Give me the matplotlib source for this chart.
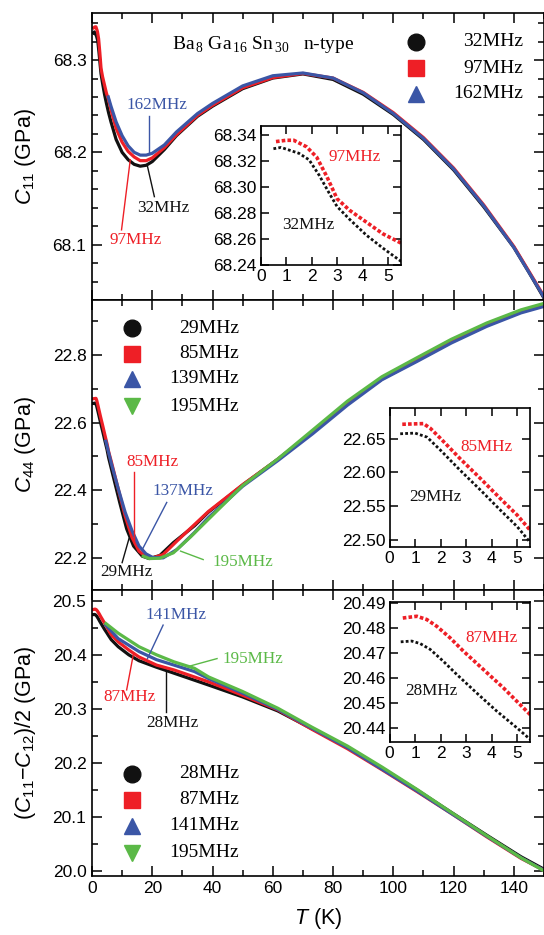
import matplotlib
matplotlib.use('Agg')
import matplotlib.pyplot as plt
from matplotlib.ticker import MultipleLocator, FormatStrFormatter

plt.rcParams['font.family'] = ['Liberation Sans', 'DejaVu Sans']
plt.rcParams['mathtext.fontset'] = 'custom'
plt.rcParams['mathtext.rm'] = 'Liberation Serif'
plt.rcParams['mathtext.it'] = 'Liberation Sans:italic'
plt.rcParams['mathtext.sf'] = 'Liberation Sans'
plt.rcParams['mathtext.bf'] = 'Liberation Sans:bold'

BLACK = '#111111'
RED = '#ee1f26'
BLUE = '#3b56a6'
GREEN = '#5bb947'

# ---------------- C11 panel ----------------
c11_T_32 = [0.5, 0.8, 1.5, 1.9, 2.3, 2.7, 3.0, 3.5, 4.15, 4.8, 5.5, 6.3, 8, 10, 12, 14, 16, 18, 20, 24, 28,
            35, 40, 50, 60, 70, 80, 90, 100, 110, 120, 130, 140, 145, 150]
c11_v_32 = [68.3295, 68.3305, 68.326, 68.321, 68.309, 68.295, 68.285, 68.275, 68.263, 68.253, 68.243, 68.233,
            68.214, 68.200, 68.192, 68.187, 68.185, 68.186, 68.190, 68.203, 68.218, 68.239, 68.250, 68.269,
            68.2805, 68.285, 68.279, 68.263, 68.241, 68.214, 68.181, 68.141, 68.097, 68.070, 68.042]
c11_T_97 = [0.6, 1.0, 1.3, 1.8, 2.2, 2.6, 3.0, 3.5, 4.15, 4.8, 5.5, 6.3, 8, 10, 12, 14, 16, 18, 20, 24, 28,
            35, 40, 50, 60, 70, 80, 90, 100, 110, 120, 130, 140, 145, 150]
c11_v_97 = [68.335, 68.336, 68.336, 68.331, 68.323, 68.308, 68.291, 68.282, 68.273, 68.264, 68.257, 68.246,
            68.226, 68.211, 68.201, 68.195, 68.191, 68.191, 68.194, 68.205, 68.219, 68.240, 68.251, 68.270,
            68.281, 68.2855, 68.2805, 68.265, 68.243, 68.216, 68.183, 68.143, 68.098, 68.071, 68.044]
c11_T_162 = [5.4, 6.3, 8, 10, 12, 14, 16, 18, 20, 24, 28, 35, 40, 50, 60, 70, 80, 90, 100, 110, 120, 130,
             140, 145, 150]
c11_v_162 = [68.260, 68.250, 68.233, 68.218, 68.207, 68.200, 68.197, 68.197, 68.199, 68.208, 68.222, 68.242,
             68.253, 68.272, 68.283, 68.286, 68.2805, 68.2645, 68.242, 68.215, 68.182, 68.142, 68.097,
             68.070, 68.043]

# ---------------- C44 panel ----------------
c44_T_29 = [0.42, 1.0, 1.47, 1.99, 2.77, 3.56, 4.35, 5.0, 5.5, 9.2, 11.5, 13.8, 16.7, 19, 22.5, 27, 34,
            38.6, 50.2, 61.7, 73.2, 84.8, 96.2, 107.8, 119.3, 131, 142.4, 150]
c44_v_29 = [22.657, 22.658, 22.652, 22.633, 22.603, 22.574, 22.544, 22.520, 22.497, 22.364, 22.286, 22.235,
            22.205, 22.198, 22.207, 22.245, 22.295, 22.335, 22.417, 22.492, 22.572, 22.658, 22.729, 22.784,
            22.839, 22.888, 22.928, 22.948]
c44_T_85 = [0.5, 1.33, 1.6, 2.0, 2.77, 3.56, 4.35, 5.0, 5.5, 6.4, 8.7, 11, 13.3, 15.6, 17.9, 20.2, 23.6,
            28.2, 38.6, 50.2, 61.7, 73.2, 84.8, 96.2, 107.8, 119.3, 131, 142.4, 150]
c44_v_85 = [22.671, 22.672, 22.665, 22.650, 22.620, 22.591, 22.561, 22.537, 22.515, 22.485, 22.404, 22.324,
            22.260, 22.220, 22.203, 22.200, 22.210, 22.250, 22.337, 22.418, 22.492, 22.573, 22.657, 22.730,
            22.785, 22.840, 22.889, 22.929, 22.949]
c44_T_139 = [4.6, 6.4, 8.7, 11, 13.3, 15.6, 17.9, 20.2, 23.6, 28.2, 34, 38.6, 50, 61.7, 73.2, 84.8, 96.2,
             107.8, 119.3, 131, 142.4, 150]
c44_v_139 = [22.545, 22.480, 22.405, 22.335, 22.280, 22.235, 22.212, 22.201, 22.200, 22.225, 22.275, 22.319,
             22.412, 22.488, 22.567, 22.652, 22.727, 22.781, 22.836, 22.885, 22.925, 22.944]
c44_T_195 = [17, 19, 22.5, 27, 32.7, 38.6, 50, 61.7, 73.2, 84.8, 96.2, 107.8, 119.3, 131, 142.4, 150]
c44_v_195 = [22.205, 22.198, 22.199, 22.215, 22.262, 22.314, 22.414, 22.493, 22.578, 22.664, 22.736, 22.792,
             22.847, 22.895, 22.934, 22.953]

# ---------------- (C11-C12)/2 panel ----------------
cs_T_28 = [0.44, 0.87, 1.2, 1.59, 2.1, 2.63, 3.4, 4.19, 4.97, 5.49, 6.4, 8.7, 12.2, 15.6, 21.4, 27.2, 38.7,
           50, 61.7, 73, 84.8, 96.3, 107.8, 119.3, 131, 142.4, 150]
cs_v_28 = [20.4745, 20.4748, 20.4738, 20.4715, 20.4668, 20.4615, 20.4542, 20.4469, 20.4403, 20.4357, 20.428,
           20.415, 20.400, 20.389, 20.377, 20.366, 20.344, 20.322, 20.296, 20.263, 20.229, 20.190, 20.150,
           20.108, 20.066, 20.026, 20.003]
cs_T_87 = [0.52, 1.07, 1.46, 1.85, 2.37, 2.89, 3.67, 4.45, 4.97, 5.49, 6.4, 8.7, 12.2, 15.6, 21.4, 27.2, 38.7,
           50, 61.7, 73, 84.8, 96.3, 107.8, 119.3, 131, 142.4, 150]
cs_v_87 = [20.4840, 20.4847, 20.4834, 20.4807, 20.4761, 20.4708, 20.4635, 20.4562, 20.4509, 20.4456, 20.437,
           20.424, 20.409, 20.396, 20.381, 20.372, 20.350, 20.325, 20.298, 20.262, 20.226, 20.187, 20.147,
           20.106, 20.063, 20.023, 20.001]
cs_T_141 = [4.6, 8.7, 15.6, 21.4, 27.2, 34, 38.7, 50, 61.7, 73, 84.8, 96.3, 107.8, 119.3, 131, 142.4, 150]
cs_v_141 = [20.455, 20.430, 20.406, 20.391, 20.381, 20.369, 20.356, 20.329, 20.299, 20.264, 20.228, 20.188,
            20.148, 20.106, 20.064, 20.024, 20.001]
cs_T_195 = [4.6, 8.7, 15.6, 21.4, 27.2, 34, 38.7, 50, 61.7, 73, 84.8, 96.3, 107.8, 119.3, 131, 142.4, 150]
cs_v_195 = [20.458, 20.440, 20.415, 20.400, 20.387, 20.375, 20.359, 20.332, 20.301, 20.266, 20.231, 20.192,
            20.151, 20.108, 20.065, 20.024, 20.000]

x_ticks = [0, 20, 40, 60, 80, 100, 120, 140]
inset_x_ticks = [0, 1, 2, 3, 4, 5]

fig = plt.figure(figsize=(5.44, 9.35), dpi=100)
L, W = 92 / 544, 452 / 544
ax1 = fig.add_axes([L, 1 - 300 / 935, W, 287 / 935])
ax2 = fig.add_axes([L, 1 - 590 / 935, W, 290 / 935])
ax3 = fig.add_axes([L, 1 - 875.7 / 935, W, 285.7 / 935])

SERIF = 'Liberation Serif'
LW = 2.3


def style_main(ax, ymaj, ymin, fmt):
    ax.set_xlim(0, 150)
    ax.set_xticks(x_ticks)
    ax.xaxis.set_minor_locator(MultipleLocator(10))
    ax.yaxis.set_major_locator(MultipleLocator(ymaj))
    ax.yaxis.set_minor_locator(MultipleLocator(ymin))
    ax.yaxis.set_major_formatter(FormatStrFormatter(fmt))
    ax.tick_params(which='both', direction='in', top=True, right=True, labelsize=12.5, width=1.1)
    ax.tick_params(which='major', length=7, pad=4)
    ax.tick_params(which='minor', length=4)
    for s in ax.spines.values():
        s.set_linewidth(1.2)


def style_inset(ax, ylo, yhi, ymaj, fmt):
    ax.set_xlim(0, 5.5)
    ax.set_ylim(ylo, yhi)
    ax.set_xticks(inset_x_ticks)
    ax.yaxis.set_major_locator(MultipleLocator(ymaj))
    ax.yaxis.set_major_formatter(FormatStrFormatter(fmt))
    ax.tick_params(which='both', direction='in', top=True, right=True, labelsize=12.5, width=1.1,
                   length=6, pad=3)
    for s in ax.spines.values():
        s.set_linewidth(1.2)


def legend(ax, xm, xt, ys, markers, colors, labels, sizes):
    for y, m, c, lab, s in zip(ys, markers, colors, labels, sizes):
        ax.plot([xm], [y], marker=m, color=c, ms=s, linestyle='none', transform=ax.transAxes, clip_on=False)
        ax.text(xt, y, lab, transform=ax.transAxes, ha='right', va='center', family=SERIF, fontsize=14)


def label(ax, x, y, s, c):
    ax.text(x, y, s, color=c, family=SERIF, fontsize=12.3, ha='center', va='center')


def leader(ax, xs, ys, c):
    ax.plot(xs, ys, color=c, lw=1.0)


# ---- top panel ----
ax1.plot(c11_T_32, c11_v_32, color=BLACK, lw=LW)
ax1.plot(c11_T_97, c11_v_97, color=RED, lw=LW)
ax1.plot(c11_T_162, c11_v_162, color=BLUE, lw=LW)
ax1.set_ylim(68.04, 68.351)
style_main(ax1, 0.1, 0.02, '%.1f')
ax1.tick_params(labelbottom=False)
ax1.set_ylabel(r'$C_{\mathsf{11}}$ (GPa)', fontsize=15.5)
ax1.yaxis.set_label_coords(-0.12, 0.5)
ax1.text(0.177, 0.889, r'Ba$_{\,8}$ Ga$_{\,16}$ Sn$_{\,30}$   n-type', transform=ax1.transAxes,
         family=SERIF, fontsize=14, va='center')
legend(ax1, 0.717, 0.954, [0.899, 0.808, 0.718], ['o', 's', '^'], [BLACK, RED, BLUE],
       ['32MHz', '97MHz', '162MHz'], [12, 11, 12])
label(ax1, 21.6, 68.251, '162MHz', BLUE)
leader(ax1, [19.0, 19.0], [68.239, 68.198], BLUE)
label(ax1, 14.6, 68.105, '97MHz', RED)
leader(ax1, [9.8, 12.7], [68.116, 68.192], RED)
label(ax1, 23.5, 68.140, '32MHz', BLACK)
leader(ax1, [20.7, 18.4], [68.152, 68.185], BLACK)

in1 = fig.add_axes([260.7 / 544, 1 - 265 / 935, 140 / 544, 139 / 935])
in1.plot(c11_T_32, c11_v_32, color=BLACK, lw=2.0, linestyle=(0, (1, 0.8)))
in1.plot(c11_T_97, c11_v_97, color=RED, lw=2.6, linestyle=(0, (1, 0.6)))
style_inset(in1, 68.24, 68.347, 0.02, '%.2f')
label(in1, 3.7, 68.323, '97MHz', RED)
label(in1, 1.85, 68.271, '32MHz', BLACK)

# ---- middle panel ----
ax2.plot(c44_T_29, c44_v_29, color=BLACK, lw=LW)
ax2.plot(c44_T_85, c44_v_85, color=RED, lw=LW)
ax2.plot(c44_T_139, c44_v_139, color=BLUE, lw=LW)
ax2.plot(c44_T_195, c44_v_195, color=GREEN, lw=LW)
ax2.set_ylim(22.105, 22.963)
style_main(ax2, 0.2, 0.1, '%.1f')
ax2.tick_params(labelbottom=False)
ax2.set_ylabel(r'$C_{\mathsf{44}}$ (GPa)', fontsize=15.5)
ax2.yaxis.set_label_coords(-0.12, 0.5)
legend(ax2, 0.0885, 0.325, [0.903, 0.814, 0.728, 0.634], ['o', 's', '^', 'v'],
       [BLACK, RED, BLUE, GREEN], ['29MHz', '85MHz', '139MHz', '195MHz'], [12, 11, 12, 12])
label(ax2, 20.1, 22.485, '85MHz', RED)
leader(ax2, [13.8, 13.8], [22.453, 22.245], RED)
label(ax2, 30.1, 22.399, '137MHz', BLUE)
leader(ax2, [24.8, 16.7], [22.364, 22.225], BLUE)
label(ax2, 50.2, 22.189, '195MHz', GREEN)
leader(ax2, [36.9, 29.4], [22.195, 22.220], GREEN)
label(ax2, 11.5, 22.158, '29MHz', BLACK)
leader(ax2, [10.0, 12.3], [22.186, 22.258], BLACK)

in2 = fig.add_axes([389.5 / 544, 1 - 547 / 935, 140.5 / 544, 139 / 935])
in2.plot(c44_T_29, c44_v_29, color=BLACK, lw=2.0, linestyle=(0, (1, 0.8)))
in2.plot(c44_T_85, c44_v_85, color=RED, lw=2.6, linestyle=(0, (1, 0.6)))
style_inset(in2, 22.49, 22.695, 0.05, '%.2f')
label(in2, 3.8, 22.638, '85MHz', RED)
label(in2, 1.8, 22.564, '29MHz', BLACK)

# ---- bottom panel ----
ax3.plot(cs_T_28, cs_v_28, color=BLACK, lw=LW)
ax3.plot(cs_T_87, cs_v_87, color=RED, lw=LW)
ax3.plot(cs_T_141, cs_v_141, color=BLUE, lw=LW)
ax3.plot(cs_T_195, cs_v_195, color=GREEN, lw=LW)
ax3.set_ylim(19.991, 20.52)
style_main(ax3, 0.1, 0.05, '%.1f')
ax3.set_ylabel('(' + r'$C_{\mathsf{11}}$' + '\u2212' + r'$C_{\mathsf{12}}$' + ')/2 (GPa)', fontsize=15.5)
ax3.yaxis.set_label_coords(-0.12, 0.5)
ax3.set_xlabel(r'$T$ (K)', fontsize=15.5, labelpad=7)
legend(ax3, 0.0885, 0.325, [0.356, 0.265, 0.174, 0.0795], ['o', 's', '^', 'v'],
       [BLACK, RED, BLUE, GREEN], ['28MHz', '87MHz', '141MHz', '195MHz'], [12, 11, 12, 12])
label(ax3, 28.0, 20.473, '141MHz', BLUE)
leader(ax3, [23.6, 18.4], [20.455, 20.393], BLUE)
label(ax3, 53.3, 20.393, '195MHz', GREEN)
leader(ax3, [41.5, 31.7], [20.393, 20.378], GREEN)
label(ax3, 12.3, 20.322, '87MHz', RED)
leader(ax3, [11.5, 13.8], [20.335, 20.403], RED)
label(ax3, 26.7, 20.274, '28MHz', BLACK)
leader(ax3, [24.5, 24.5], [20.295, 20.369], BLACK)

in3 = fig.add_axes([389.5 / 544, 1 - 742 / 935, 140.5 / 544, 140 / 935])
in3.plot(cs_T_28, cs_v_28, color=BLACK, lw=2.0, linestyle=(0, (1, 0.8)))
in3.plot(cs_T_87, cs_v_87, color=RED, lw=2.6, linestyle=(0, (1, 0.6)))
style_inset(in3, 20.4345, 20.4904, 0.01, '%.2f')
label(in3, 4.0, 20.476, '87MHz', RED)
label(in3, 1.65, 20.455, '28MHz', BLACK)

fig.savefig('out.png', dpi=100)
